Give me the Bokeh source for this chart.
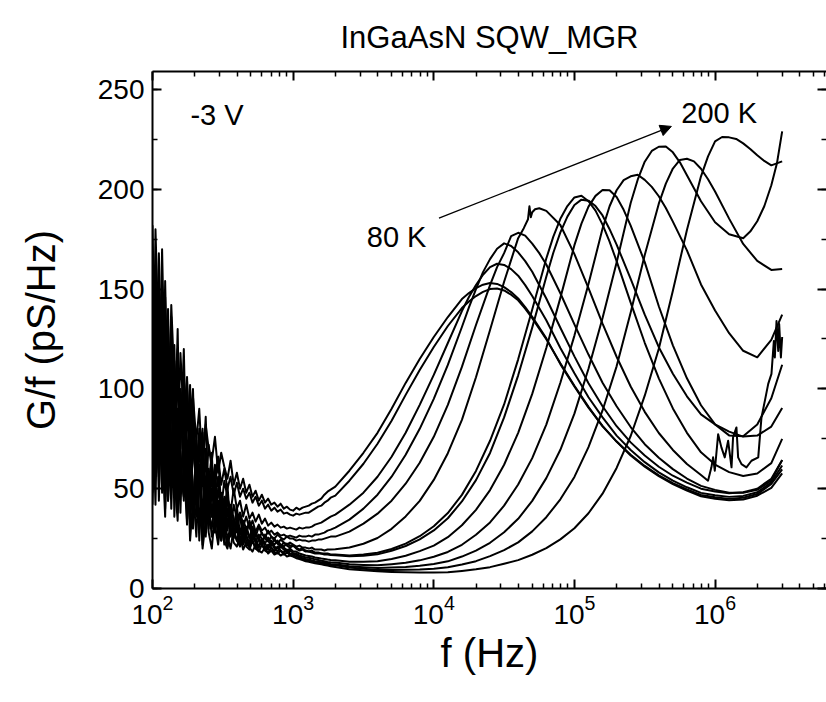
from bokeh.plotting import figure
from bokeh.models import (LogAxis, LinearAxis, FixedTicker, SingleIntervalTicker,
                          Label, Arrow, NormalHead, Range1d)
from bokeh.embed import file_html
from bokeh.resources import INLINE

FONT = "Liberation Sans"

# ---------------- data ----------------
# noisy low-frequency part, shared by all curves (Hz)
freq_low = [100, 105, 111, 117, 123, 129, 136, 143, 151, 158, 167, 176, 185, 194, 205, 215,
            227, 239, 251, 264, 278, 293, 308, 324, 341, 359, 378, 398, 419, 441, 464, 489,
            514, 541, 570, 599, 631, 664, 699, 736, 774, 815, 858, 903, 950, 1000, 1053, 1108,
            1166, 1227, 1292, 1359, 1431, 1506, 1585, 1668, 1756, 1848]
# smooth part (Hz)
freq_main = [1995, 2512, 3162, 3981, 5012, 6310, 7943,
             10000, 12589, 15849, 19953, 25119, 31623, 39811, 50119, 63096, 79433,
             100000, 125893, 158489, 199526, 251189, 316228, 398107, 501187, 630957, 794328,
             1000000, 1258925, 1584893, 1995262, 2511886, 3000000]
# the 130 K curve has its own, denser list (noisy peak and tail)
freq_130K = [1995, 2512, 3162, 3981, 5012, 6310, 7943,
             10000, 12589, 15849, 19953, 25119, 31623, 39811, 43652, 46774, 47863,
             48978, 50119, 52481, 56234, 63096, 79433, 100000, 125893, 158489, 199526,
             251189, 316228, 398107, 501187, 630957, 794328, 891251, 941889, 968278, 995405,
             1051962, 1109175, 1172195, 1238799, 1309182, 1342765, 1419058, 1458810, 1541700,
             1671090, 1815520, 2027683, 2137962, 2259436, 2387811, 2517727, 2618183, 2660725,
             2735269, 2811900, 2857590, 2937650, 3000000]

# G/f (pS/Hz) on freq_low
low_80K = [150, 78, 168, 96, 130, 72, 142, 104, 66, 118, 84, 106, 62, 96, 74, 90, 58, 82, 70, 64,
           76, 58, 68, 61, 55, 64, 52, 58, 50, 55, 48, 52, 46, 49, 44, 47, 43, 45, 42, 43,
           41, 42.5, 40, 41, 39.5, 39, 40.5, 39.5, 40.5, 41, 41.5, 42.5, 43, 44, 45, 47, 48.5, 49.5]
low_90K = [110, 162, 86, 140, 58, 124, 92, 60, 112, 78, 98, 58, 88, 70, 54, 80, 66, 50, 72, 60,
           54, 66, 52, 60, 50, 56, 47, 53, 46, 50, 45, 48, 43, 46, 41.5, 44, 40, 42, 39, 40.5,
           38.5, 39.5, 37.5, 38, 37, 36.5, 37.5, 37, 37.5, 38, 38, 39, 40, 41, 41.5, 43, 44, 45.5]
low_100K = [62, 180, 120, 48, 154, 86, 128, 52, 110, 70, 120, 46, 84, 100, 40, 76, 58, 86, 42, 62,
            50, 66, 40, 54, 46, 38, 50, 40, 44, 36, 42, 35, 38, 33.5, 37, 32.5, 35, 31.5, 33, 31,
            32, 30.5, 31, 30, 30.5, 30, 29.5, 30.5, 30, 30.5, 30.5, 31, 32, 32.5, 33, 34, 35, 36]
low_110K = [182, 104, 58, 136, 74, 44, 118, 64, 130, 48, 76, 56, 102, 36, 68, 50, 78, 34, 58, 44,
            62, 32, 48, 38, 52, 30, 42, 35, 38, 31, 36, 30, 34, 28.5, 32, 29, 30.5, 27.5, 29, 27,
            28, 26.5, 27, 26, 26.5, 26, 25.5, 26.5, 26, 26, 26.5, 26, 27, 27, 27.5, 28, 29, 29.5]
low_120K = [48, 132, 78, 170, 96, 140, 54, 100, 82, 38, 96, 72, 44, 88, 56, 30, 70, 46, 60, 36,
            44, 56, 34, 46, 29, 42, 35, 28, 38, 32, 27, 34, 29, 26, 31, 27.5, 25.5, 29, 26, 25,
            27, 25.5, 24.5, 26, 25, 25, 24, 24.5, 24, 24, 23.5, 24, 24, 24.5, 24.5, 25, 25.5, 26]
low_130K = [126, 58, 98, 154, 62, 108, 40, 86, 120, 58, 46, 104, 64, 92, 38, 66, 80, 32, 52, 68,
            30, 50, 40, 26, 46, 36, 30, 41, 27, 34, 30, 25, 31, 27, 24.5, 28, 25, 23.5, 26, 24,
            22.5, 24.5, 23, 22, 23, 22, 21, 21.5, 20.5, 20.5, 20, 20.5, 19.5, 19.5, 19.5, 19, 19.5, 19.5]
low_140K = [74, 122, 44, 100, 146, 66, 52, 114, 78, 98, 54, 70, 36, 82, 48, 62, 28, 56, 44, 36,
            52, 34, 28, 44, 33, 38, 25, 34, 29, 24, 31, 26, 28, 23.5, 27, 25, 22.5, 25.5, 23, 22,
            24, 22, 21, 22.5, 21.5, 21.5, 20.5, 19.5, 20, 19, 18.5, 19, 18, 18, 17.5, 17.5, 17.5, 17]
low_150K = [164, 88, 56, 118, 40, 92, 136, 62, 44, 100, 80, 34, 66, 92, 42, 54, 38, 70, 30, 50,
            40, 27, 44, 36, 30, 40, 26, 32, 37, 24, 29, 33, 24, 28, 25, 22, 27, 24, 21.5, 25,
            22.5, 21, 23, 21.5, 20.5, 21.5, 20, 19, 19.5, 18.5, 18.5, 18, 17.5, 17.5, 17.5, 17, 17, 16.8]
low_160K = [54, 104, 146, 72, 36, 98, 60, 122, 50, 84, 108, 40, 62, 30, 76, 52, 64, 26, 48, 56,
            34, 42, 24, 38, 45, 26, 34, 30, 22, 31, 26, 23, 29, 24, 21, 25, 22.5, 20.5, 24, 21,
            20, 22, 20.5, 19, 20, 18.6, 18.5, 17.5, 17, 16.5, 16.3, 16, 15.5, 15.3, 15, 14.8, 14.5, 14.3]
low_170K = [96, 42, 134, 68, 108, 52, 126, 36, 90, 66, 44, 92, 58, 38, 74, 24, 58, 42, 36, 60,
            28, 44, 36, 22, 40, 30, 26, 36, 23, 29, 24, 21, 27, 23, 20.5, 25, 21, 19.5, 23, 20,
            18.5, 21, 19.5, 18, 19, 17.8, 17.5, 16.5, 16, 15.5, 15.4, 15, 14.6, 14.3, 13.9, 13.6, 13.3, 13.1]
low_180K = [130, 66, 104, 50, 124, 88, 58, 106, 40, 76, 92, 52, 34, 78, 46, 62, 22, 50, 38, 30,
            46, 26, 36, 32, 21, 34, 28, 24, 30, 22, 27, 21.5, 24, 20, 25, 22, 19.5, 22, 20.5, 18.5,
            21, 19, 18, 19.5, 17.5, 17.2, 16.8, 16, 15.2, 14.8, 14.5, 14.1, 13.7, 13.4, 13.2, 12.9, 12.6, 12.3]
low_190K = [42, 96, 64, 120, 46, 82, 104, 56, 34, 96, 62, 32, 72, 50, 26, 58, 40, 48, 28, 20,
            38, 30, 24, 34, 26, 20, 30, 24, 21, 27, 21, 19.5, 24, 20, 18.5, 22, 19, 18, 20.5, 18,
            17.5, 19, 17, 18, 16.8, 16.6, 16, 15.3, 14.6, 14.2, 14, 13.6, 13.3, 13, 12.7, 12.4, 12.1, 11.8]
low_200K = [80, 142, 60, 88, 112, 44, 70, 94, 38, 62, 50, 74, 24, 44, 36, 56, 20, 34, 42, 26,
            32, 22, 36, 24, 20, 30, 23, 21, 26, 19.5, 23, 20.5, 18.5, 22, 19, 18, 20.5, 17.5, 19, 17,
            18, 16.5, 17.5, 16, 16.5, 16, 15.2, 14.8, 14.2, 13.6, 13.4, 13, 12.7, 12.4, 12.1, 11.8, 11.5, 11.2]

# G/f (pS/Hz) on freq_main (130 K on freq_130K)
main_80K = [51, 59, 68, 78, 90, 103, 115, 126, 136, 145, 150.5, 153, 151, 145.3,
            136.1, 125.3, 112.4, 101.2, 90.6, 81.5, 73.6, 67, 61.4, 56.7, 52.8, 49.6, 46.9,
            45.7, 44.9, 45.5, 47.3, 52.4, 59.7]
main_90K = [46.5, 54, 62.5, 72.5, 84, 97, 109.5, 121, 131.5, 140.5, 146.5, 150,
            149.3, 144.4, 135.4, 124.9, 112.8, 101.6, 91, 81.2, 73.6, 66.6, 61, 56.3, 52.3, 49,
            46.2, 45, 44.2, 44.6, 46.5, 50.4, 57.7]
main_100K = [37, 42, 48, 56, 66, 78, 92, 107, 123, 139, 152, 161, 162.1, 156.7,
             146.5, 134.4, 120.5, 107.8, 95.8, 85.7, 76.6, 69.4, 63.3, 58.2, 54, 50.7, 47.9,
             46.7, 45.9, 46.4, 48.2, 53.2, 61.6]
main_110K = [30.5, 34.5, 40, 47, 56, 67, 80, 95, 112, 131, 150, 165, 172.9, 168.4,
             158.7, 145.3, 130.6, 116.3, 102.8, 91.3, 81.3, 73.2, 66.6, 61, 56.5, 53, 50,
             48.6, 47.7, 48.2, 50, 55, 64.4]
main_120K = [26, 28.5, 32.5, 37.5, 44, 52.5, 63, 76, 92, 111, 132, 152, 168,
             178.2, 172.8, 162.3, 147.9, 132.3, 117.2, 103.1, 91.3, 80.9, 72.3, 65.5, 59.8,
             55.1, 51.4, 49.4, 48, 48, 49.4, 54.1, 64.3]
main_130K = [19.7, 20.5, 22.4, 25.3, 29.9, 36.1, 43.9, 54.4, 67.8, 84.5, 105.8,
             129.5, 153.7, 175.5, 180.5, 185, 191.5, 186, 188.5, 190, 190.5, 189.2, 182.1,
             167.5, 150.5, 132.7, 116.1, 101.2, 88.5, 77.9, 69.4, 62.4, 56.9,
             54, 60.7, 65.7, 59, 77.3, 70.7, 65.7, 74, 60.7, 75.7, 80.7, 65.7, 62.3, 60.7, 64,
             65.7, 85.7, 94, 102.5, 107.5, 124, 115.7, 134, 119, 132.5, 115.7, 126]
main_140K = [17, 16.5, 17, 17.9, 19.8, 22.5, 26.2, 31.2, 37.8, 46.9, 58.9, 74,
             92.2, 114.8, 139.8, 165.3, 185.2, 195.9, 194, 182.3, 164, 143.2, 123.1, 105.3,
             90.2, 78, 68.2, 62.1, 58.3, 56.4, 57.6, 62.8, 75]
main_150K = [16.7, 16.1, 16.4, 17.1, 18.9, 21.3, 24.6, 29.1, 35.2, 43.6,
             54.3, 67.9, 85.7, 106.8, 130.7, 156.2, 178.4, 192.1, 194.3, 186.9, 172.3, 155.1,
             137.2, 120.9, 107.6, 96.3, 87.2, 82.2, 78.6, 76.1, 76.6, 81.1, 90.4]
main_160K = [14.1, 13.4, 13.4, 13.6, 14.8, 16.4, 18.7, 21.5, 25.7, 31.7,
             39.4, 49.3, 62, 78, 97.5, 120.5, 145.6, 172, 191.3, 199.6, 196.1, 181.8, 163.5,
             141.4, 121.8, 105.3, 91.8, 82.2, 76.7, 76.3, 82.2, 95.3, 112.1]
main_170K = [13, 12.1, 11.8, 11.6, 12.2, 12.9, 14.1, 15.9, 18.3, 21.9, 26.9,
             33.1, 41.5, 52.1, 65.3, 82.1, 103.1, 126.7, 152.5, 180.3, 199.5, 206.5, 204.7,
             196.5, 183.8, 169.4, 152.3, 139.3, 127.9, 119.1, 115.8, 124.6, 137.2]
main_180K = [12.1, 11.2, 10.7, 10.3, 10.5, 10.8, 11.4, 12.3, 13.6, 16, 19,
             22.9, 28.2, 34.9, 43.9, 55.3, 69.5, 87.6, 110.1, 135.5, 163.3, 193.1, 213.8,
             221.3, 218.5, 207, 194, 183.5, 177.5, 175.5, 184, 202, 229]
main_190K = [11.6, 10.5, 9.9, 9.3, 9.3, 9.4, 9.5, 9.9, 10.6, 12, 13.7, 16.2,
             19.2, 23.1, 28.6, 35.7, 44.7, 55.9, 70.8, 89.2, 111.3, 138.3, 167.1, 192.8, 210.4,
             215.3, 210.3, 198.9, 185.3, 172.6, 164.1, 159.6, 160.1]
main_200K = [10.8, 9.6, 9.2, 8.6, 8.3, 8.1, 8, 8, 8.1, 8.8, 9.6, 10.7, 12.4,
             14.2, 16.9, 20.2, 24.6, 30.2, 37.7, 47.5, 60.4, 76.4, 96.6, 120.1, 149.2, 179.6,
             206.5, 224, 226, 223, 217, 212, 214]

# extra readings around each peak (Hz, pS/Hz)
peak_f_80K = [17783, 22387, 28184, 35481, 44668]
peak_g_80K = [148, 152.2, 152.6, 148.5, 141]
peak_f_90K = [17783, 22387, 28184, 35481, 44668]
peak_g_90K = [143.8, 148.6, 150.3, 147.2, 140.2]
peak_f_100K = [17783, 22387, 28184, 35481, 44668]
peak_g_100K = [146, 157.2, 162.7, 160, 152]
peak_f_110K = [17783, 22387, 28184, 35481, 44668]
peak_g_110K = [140.8, 158.5, 170.2, 171.6, 164]
peak_f_120K = [28184, 35481, 44668, 56234]
peak_g_120K = [161, 176.5, 176.8, 168]
peak_f_140K = [70795, 89125, 112202, 141254, 177828]
peak_g_140K = [176.3, 191.6, 196.8, 189.3, 173.8]
peak_f_150K = [70795, 89125, 112202, 141254, 177828]
peak_g_150K = [168.2, 186.3, 194.8, 191.6, 180]
peak_f_160K = [112202, 141254, 177828, 223872]
peak_g_160K = [182.8, 196.7, 199.5, 189.7]
peak_f_170K = [177828, 223872, 281838, 354813, 446684]
peak_g_170K = [191.5, 204.6, 207.3, 201.2, 190.6]
peak_f_180K = [281838, 354813, 446684, 562341, 707946, 1778279, 2238721, 2754229]
peak_g_180K = [204.8, 219.2, 221.4, 213.5, 200.5, 178.8, 191.5, 213]
peak_f_190K = [446684, 562341, 707946, 891251]
peak_g_190K = [202.8, 214.7, 214, 205]
peak_f_200K = [891251, 1122018, 1412538, 1778279, 2238721]
peak_g_200K = [216.5, 226.2, 225.2, 220.2, 214.2]

# axis ticks
x_major_ticks = [1e2, 1e3, 1e4, 1e5, 1e6]
x_minor_ticks = [m * 10 ** e for e in range(2, 7) for m in range(2, 10) if m * 10 ** e < 6.2e6]

# annotations (data coordinates)
arrow_start = (10890, 185.5)
arrow_end = (489000, 231.5)
label_80K = (3340, 176)
label_200K = (575000, 238)
label_bias = (186, 237)


def merge(f_a, g_a, f_b, g_b):
    pairs = sorted(zip(f_a + f_b, g_a + g_b))
    return [q[0] for q in pairs], [q[1] for q in pairs]


curves = [
    merge(freq_low + freq_main, low_80K + main_80K, peak_f_80K, peak_g_80K),
    merge(freq_low + freq_main, low_90K + main_90K, peak_f_90K, peak_g_90K),
    merge(freq_low + freq_main, low_100K + main_100K, peak_f_100K, peak_g_100K),
    merge(freq_low + freq_main, low_110K + main_110K, peak_f_110K, peak_g_110K),
    merge(freq_low + freq_main, low_120K + main_120K, peak_f_120K, peak_g_120K),
    (freq_low + freq_130K, low_130K + main_130K),
    merge(freq_low + freq_main, low_140K + main_140K, peak_f_140K, peak_g_140K),
    merge(freq_low + freq_main, low_150K + main_150K, peak_f_150K, peak_g_150K),
    merge(freq_low + freq_main, low_160K + main_160K, peak_f_160K, peak_g_160K),
    merge(freq_low + freq_main, low_170K + main_170K, peak_f_170K, peak_g_170K),
    merge(freq_low + freq_main, low_180K + main_180K, peak_f_180K, peak_g_180K),
    merge(freq_low + freq_main, low_190K + main_190K, peak_f_190K, peak_g_190K),
    merge(freq_low + freq_main, low_200K + main_200K, peak_f_200K, peak_g_200K),
]

# ---------------- figure ----------------
p = figure(width=826, height=702, x_axis_type="log",
           x_range=Range1d(100, 6.2e6), y_range=Range1d(0, 259),
           output_backend="svg", toolbar_location=None,
           min_border_left=152, min_border_right=0,
           min_border_top=70, min_border_bottom=114)
p.background_fill_color = "white"
p.border_fill_color = "white"
p.outline_line_color = None
p.grid.visible = False

for fx, gy in curves:
    p.line(fx, gy, line_color="black", line_width=2, line_join="round")


def style_axis(ax, labels=True):
    ax.axis_line_width = 2
    ax.axis_line_color = "black"
    ax.major_tick_in = 9
    ax.major_tick_out = 0
    ax.minor_tick_in = 5
    ax.minor_tick_out = 0
    ax.major_tick_line_width = 2
    ax.minor_tick_line_width = 1.5
    ax.major_tick_line_color = "black"
    ax.minor_tick_line_color = "black"
    if labels:
        ax.major_label_text_font = FONT
        ax.major_label_text_font_size = "28px"
        ax.major_label_text_color = "black"
        ax.major_label_standoff = 8
        ax.axis_label_text_font = FONT
        ax.axis_label_text_font_size = "40px"
        ax.axis_label_text_font_style = "normal"
        ax.axis_label_text_color = "black"
    else:
        ax.major_label_text_font_size = "1px"
        ax.major_label_text_alpha = 0
        ax.major_label_standoff = 0


xticker = FixedTicker(ticks=x_major_ticks, minor_ticks=x_minor_ticks)
yticker = SingleIntervalTicker(interval=50, num_minor_ticks=2)

xb = p.below[0]
xb.ticker = xticker
style_axis(xb)
xb.major_label_standoff = 6
xb.axis_label = "f (Hz)"
xb.axis_label_standoff = 4

yl = p.left[0]
yl.ticker = yticker
style_axis(yl)
yl.axis_label = "G/f (pS/Hz)"
yl.axis_label_standoff = 32

xt = LogAxis(ticker=xticker)
style_axis(xt, labels=False)
p.add_layout(xt, "above")

yr = LinearAxis(ticker=yticker)
style_axis(yr, labels=False)
yr.axis_line_color = None
p.add_layout(yr, "right")

p.title.text = "InGaAsN SQW_MGR"
p.title.align = "center"
p.title.offset = 6
p.title.text_font = FONT
p.title.text_font_size = "31px"
p.title.text_font_style = "normal"
p.title.text_color = "black"
p.title.standoff = 34

p.add_layout(Arrow(end=NormalHead(size=11, fill_color="black", line_color="black"),
                   x_start=arrow_start[0], y_start=arrow_start[1],
                   x_end=arrow_end[0], y_end=arrow_end[1],
                   line_color="black", line_width=1.3))

for (lx, ly), txt in [(label_80K, "80 K"), (label_200K, "200 K"), (label_bias, "-3 V")]:
    p.add_layout(Label(x=lx, y=ly, text=txt, text_font=FONT, text_font_size="29px",
                       text_baseline="middle", text_align="left", text_color="black"))

open("out.html", "w").write(file_html(p, INLINE))
